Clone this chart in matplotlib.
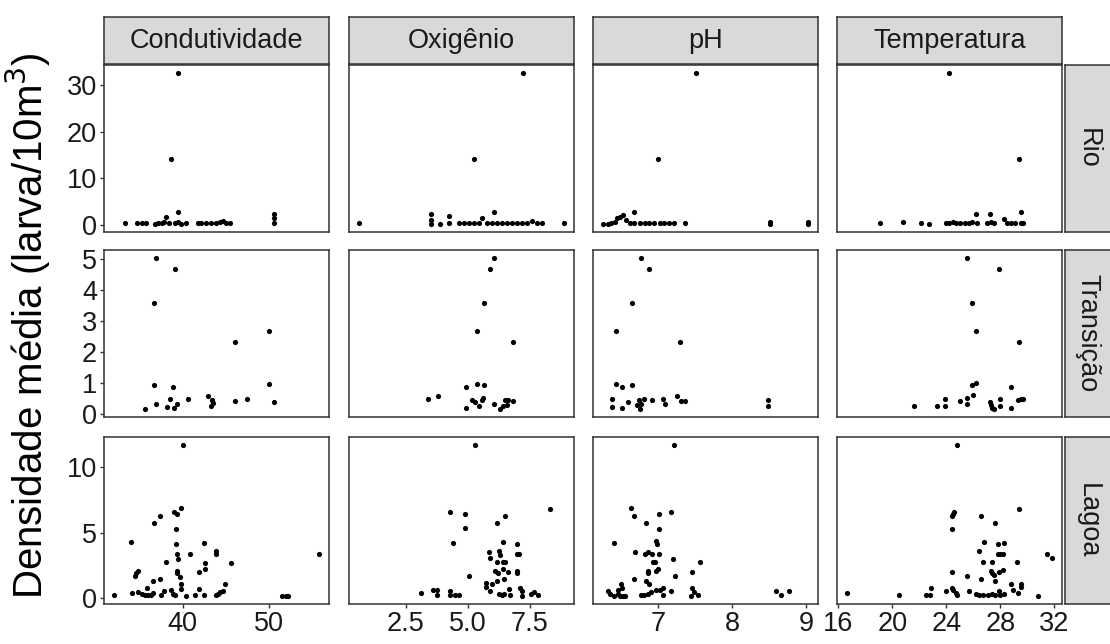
import matplotlib
matplotlib.use("Agg")
import matplotlib.pyplot as plt
import numpy as np

plt.rcParams["font.family"] = ["Liberation Sans", "DejaVu Sans"]

# facet labels
variables = ["Condutividade", "Oxigênio", "pH", "Temperatura"]
locais = ["Rio", "Transição", "Lagoa"]

# tick positions for each column / row
x_ticks = [[40, 50], [2.5, 5.0, 7.5], [7, 8, 9], [16, 20, 24, 28, 32]]
x_ticklabels = [["40", "50"], ["2.5", "5.0", "7.5"], ["7", "8", "9"],
                ["16", "20", "24", "28", "32"]]
y_ticks = [[0, 10, 20, 30], [0, 1, 2, 3, 4, 5], [0, 5, 10]]

# ---- Rio ----
rio_cond_x = [33.3, 34.7, 35.3, 35.8, 36.8, 37.2, 37.6, 37.9, 38.1, 38.4, 38.7, 39.1, 39.5, 39.5, 39.5,
              39.8, 40.4, 41.8, 42.1, 42.7, 43.3, 43.9, 44.3, 44.6, 45.0, 45.4, 50.5, 50.5, 50.5]
rio_cond_y = [0.4, 0.6, 0.5, 0.5, 0.3, 0.6, 0.5, 0.8, 1.7, 0.4, 14.1, 0.5, 32.6, 2.8, 0.7,
              0.3, 0.5, 0.4, 0.4, 0.6, 0.5, 0.4, 0.7, 0.9, 0.5, 0.6, 2.4, 1.5, 0.6]
rio_oxi_x = [0.63, 3.5, 3.5, 3.5, 3.9, 4.23, 4.23, 4.63, 4.83, 5.03, 5.23, 5.26, 5.43, 5.57, 5.77,
             5.97, 6.07, 6.17, 6.37, 6.57, 6.77, 6.97, 7.17, 7.21, 7.37, 7.57, 7.77, 8.0, 8.86]
rio_oxi_y = [0.57, 2.4, 1.1, 0.2, 0.3, 1.9, 0.4, 0.4, 0.4, 0.4, 0.4, 14.1, 0.4, 1.5, 0.6,
             0.4, 2.8, 0.4, 0.4, 0.4, 0.4, 0.6, 0.6, 32.6, 0.6, 0.9, 0.4, 0.4, 0.57]
rio_ph_x = [6.26, 6.33, 6.37, 6.42, 6.44, 6.48, 6.53, 6.57, 6.62, 6.68, 6.68, 6.75, 6.82, 6.88,
            6.95, 7.0, 7.02, 7.08, 7.15, 7.22, 7.36, 7.51, 8.51, 8.51, 9.02, 9.02]
rio_ph_y = [0.3, 0.3, 0.4, 0.8, 1.5, 1.8, 2.2, 1.1, 0.4, 0.4, 2.8, 0.4, 0.4, 0.6,
            0.4, 14.1, 0.4, 0.4, 0.4, 0.4, 0.4, 32.6, 0.8, 0.3, 0.8, 0.3]
rio_temp_x = [19.1, 20.8, 22.1, 22.75, 24.0, 24.2, 24.2, 24.5, 24.7, 25.0, 25.4, 25.7, 25.9, 26.2,
              26.3, 27.0, 27.2, 27.3, 27.5, 28.3, 28.5, 28.75, 29.1, 29.4, 29.5, 29.5, 29.7]
rio_temp_y = [0.4, 0.8, 0.6, 0.3, 0.4, 32.6, 0.6, 0.8, 0.4, 0.4, 0.4, 0.6, 0.8, 2.4,
              0.4, 0.4, 2.4, 0.8, 0.4, 1.3, 0.6, 0.4, 0.4, 14.1, 2.8, 0.4, 0.4]

# ---- Transicao ----
trans_cond_x = [36.9, 39.1, 36.7, 50.0, 46.0, 36.7, 38.9, 50.0, 36.9, 38.5, 39.3, 38.2, 39.0,
                40.6, 42.9, 43.4, 43.5, 43.3, 46.0, 47.4, 50.5, 35.6]
trans_cond_y = [5.06, 4.70, 3.58, 2.70, 2.35, 0.96, 0.87, 0.99, 0.32, 0.48, 0.34, 0.23, 0.21,
                0.49, 0.60, 0.46, 0.37, 0.26, 0.44, 0.50, 0.39, 0.17]
trans_oxi_x = [6.05, 5.9, 5.67, 5.37, 6.81, 4.93, 5.37, 5.67, 3.41, 3.79, 4.93, 5.17, 5.3, 5.43,
               5.57, 5.63, 6.07, 6.3, 6.43, 6.5, 6.63, 6.81, 6.57]
trans_oxi_y = [5.06, 4.70, 3.58, 2.70, 2.35, 0.87, 0.99, 0.96, 0.49, 0.59, 0.22, 0.47, 0.39, 0.27,
               0.45, 0.52, 0.33, 0.18, 0.27, 0.45, 0.45, 0.43, 0.29]
trans_ph_x = [6.77, 6.88, 6.65, 6.43, 7.3, 6.43, 6.51, 6.65, 6.38, 6.38, 6.51, 6.6, 6.71, 6.74,
              6.75, 6.77, 6.81, 6.92, 7.07, 7.09, 7.26, 7.31, 7.37, 8.49, 8.49]
trans_ph_y = [5.06, 4.70, 3.58, 2.70, 2.35, 0.99, 0.87, 0.96, 0.50, 0.23, 0.21, 0.39, 0.29, 0.45,
              0.18, 0.34, 0.49, 0.46, 0.50, 0.32, 0.59, 0.43, 0.42, 0.47, 0.26]
trans_temp_x = [25.5, 27.9, 25.9, 26.2, 29.4, 25.9, 26.2, 28.8, 21.6, 23.3, 23.9, 23.9, 25.0,
                25.5, 25.5, 26.0, 27.2, 27.3, 27.4, 27.5, 28.0, 28.0, 28.8, 29.3, 29.5, 29.7]
trans_temp_y = [5.06, 4.70, 3.58, 2.70, 2.35, 0.96, 1.0, 0.87, 0.28, 0.27, 0.48, 0.28, 0.42,
                0.52, 0.32, 0.61, 0.39, 0.31, 0.22, 0.16, 0.48, 0.26, 0.22, 0.46, 0.48, 0.50]

# ---- Lagoa ----
lagoa_cond_x = [40.0, 39.8, 39.0, 39.3, 37.4, 36.7, 39.2, 34.0, 39.2, 42.5, 43.9, 43.9, 40.9, 39.3,
                39.5, 38.1, 42.6, 45.6, 34.9, 34.6, 34.5, 39.3, 39.4, 41.9, 42.6, 39.7, 37.4, 36.6,
                44.9, 39.8, 39.8, 35.9, 41.9, 44.6, 44.3, 44.1, 43.8, 32.1, 34.1, 34.9, 35.3, 35.6,
                36.0, 36.4, 36.6, 37.5, 37.9, 38.7, 38.9, 39.1, 40.4, 41.4, 42.5, 51.5, 51.9, 52.2,
                55.7]
lagoa_cond_y = [11.7, 6.9, 6.6, 6.4, 6.3, 5.7, 5.3, 4.3, 4.1, 4.2, 3.6, 3.4, 3.4, 3.4,
                3.0, 2.75, 2.7, 2.7, 2.1, 1.9, 1.7, 2.1, 1.9, 2.0, 2.2, 1.6, 1.5, 1.3,
                1.1, 1.1, 0.7, 0.8, 0.7, 0.55, 0.5, 0.35, 0.23, 0.23, 0.43, 0.48, 0.35, 0.23,
                0.23, 0.23, 0.43, 0.23, 0.56, 0.6, 0.35, 0.23, 0.15, 0.23, 0.23, 0.2, 0.2, 0.2,
                3.4]
lagoa_oxi_x = [5.3, 8.3, 4.27, 4.9, 6.49, 6.19, 4.89, 4.41, 6.42, 6.97, 5.87, 6.25, 6.3, 5.9,
               6.97, 7.07, 6.17, 6.43, 6.51, 6.1, 6.2, 6.41, 6.63, 6.96, 6.99, 5.03, 6.46, 6.19,
               5.74, 5.74, 5.97, 5.9, 6.25, 6.39, 6.46, 6.65, 6.7, 7.1, 7.17, 7.17, 7.53, 7.67,
               7.83, 3.1, 3.6, 3.77, 3.77, 4.27, 4.3, 4.5, 4.63]
lagoa_oxi_y = [11.7, 6.8, 6.6, 6.4, 6.3, 5.7, 5.35, 4.2, 4.3, 4.1, 3.5, 3.6, 3.3, 3.05,
               3.4, 3.4, 2.75, 2.75, 2.8, 2.1, 1.9, 2.2, 2.0, 2.07, 1.9, 1.67, 1.5, 1.3,
               1.19, 0.86, 1.09, 0.53, 0.35, 0.23, 0.35, 0.73, 0.23, 0.78, 0.53, 0.18, 0.35, 0.48,
               0.23, 0.43, 0.6, 0.6, 0.23, 0.53, 0.23, 0.23, 0.23]
lagoa_ph_x = [7.21, 6.63, 6.68, 7.01, 7.18, 6.84, 7.01, 6.4, 6.97, 6.99, 6.69, 6.83, 6.87, 6.92,
              7.01, 7.2, 7.57, 6.93, 6.96, 6.87, 6.87, 6.97, 7.0, 7.46, 7.23, 6.68, 6.84, 6.88,
              6.5, 6.51, 6.46, 6.46, 6.48, 6.33, 6.35, 6.4, 6.53, 6.56, 6.77, 6.81, 6.87, 6.91,
              6.97, 7.02, 7.06, 7.06, 7.17, 7.46, 7.48, 7.44, 7.54, 8.59, 8.66, 8.77]
lagoa_ph_y = [11.7, 6.9, 6.3, 6.4, 6.6, 5.7, 5.3, 4.2, 4.4, 4.1, 3.5, 3.4, 3.5, 3.4,
              3.4, 3.0, 2.75, 2.75, 2.75, 2.07, 1.9, 2.07, 2.2, 2.0, 1.67, 1.5, 1.36, 1.1,
              1.1, 0.8, 0.6, 0.35, 0.18, 0.56, 0.35, 0.18, 0.18, 0.18, 0.23, 0.23, 0.35, 0.48,
              0.6, 0.6, 0.8, 0.23, 0.53, 0.8, 0.48, 0.18, 0.23, 0.55, 0.23, 0.55]
lagoa_temp_x = [24.76, 29.4, 24.5, 24.6, 24.4, 26.6, 27.6, 24.4, 26.8, 27.8, 28.3, 26.4, 27.8, 28.0,
                28.2, 31.45, 31.8, 26.7, 27.4, 29.2, 24.4, 27.3, 27.4, 27.5, 27.9, 28.2, 25.5, 26.6,
                27.6, 28.8, 28.9, 29.5, 29.5, 29.3, 22.9, 22.5, 22.8, 20.5, 16.67, 24.0, 24.4, 24.5,
                24.7, 24.8, 25.7, 26.2, 26.4, 26.7, 27.1, 27.4, 27.6, 27.9, 28.0, 28.3, 30.8]
lagoa_temp_y = [11.7, 6.8, 6.4, 6.6, 6.3, 6.3, 5.7, 5.3, 4.3, 4.1, 4.2, 3.6, 3.4, 3.4,
                3.4, 3.4, 3.05, 2.75, 2.75, 2.75, 2.0, 2.07, 1.94, 1.8, 2.0, 2.15, 1.67, 1.5,
                1.34, 1.1, 0.6, 1.1, 0.86, 0.4, 0.78, 0.23, 0.23, 0.23, 0.43, 0.56, 0.78, 0.6,
                0.43, 0.23, 0.56, 0.3, 0.23, 0.23, 0.23, 0.35, 0.27, 0.56, 0.23, 0.35, 0.15]

data_x = [[rio_cond_x, rio_oxi_x, rio_ph_x, rio_temp_x],
          [trans_cond_x, trans_oxi_x, trans_ph_x, trans_temp_x],
          [lagoa_cond_x, lagoa_oxi_x, lagoa_ph_x, lagoa_temp_x]]
data_y = [[rio_cond_y, rio_oxi_y, rio_ph_y, rio_temp_y],
          [trans_cond_y, trans_oxi_y, trans_ph_y, trans_temp_y],
          [lagoa_cond_y, lagoa_oxi_y, lagoa_ph_y, lagoa_temp_y]]


def expand(vals):
    lo, hi = min(vals), max(vals)
    pad = (hi - lo) * 0.05
    return lo - pad, hi + pad


# free scales: x per column, y per row (ggplot-like 5% expansion)
col_lims = [expand(sum([data_x[r][c] for r in range(3)], [])) for c in range(4)]
row_lims = [expand(sum([data_y[r][c] for c in range(4)], [])) for r in range(3)]

W, H = 1110, 644
fig = plt.figure(figsize=(W / 100, H / 100), dpi=100)


def px_axes(x0, y0, w, h):
    return fig.add_axes([x0 / W, 1 - (y0 + h) / H, w / W, h / H])


col_x0 = [104, 349, 593, 837]
col_w = 225
row_y0 = [65, 250, 437]
row_h = 167
border = "#333333"
strip_bg = "#D9D9D9"
fs = 19.5

for r in range(3):
    for c in range(4):
        ax = px_axes(col_x0[c], row_y0[r], col_w, row_h)
        ax.scatter(data_x[r][c], data_y[r][c], s=14, color="black", linewidths=0, zorder=3)
        ax.set_xlim(col_lims[c])
        ax.set_ylim(row_lims[r])
        for sp in ax.spines.values():
            sp.set_color(border)
            sp.set_linewidth(1.1)
        ax.set_xticks(x_ticks[c])
        ax.set_yticks(y_ticks[r])
        ax.tick_params(length=3, width=1, color=border, labelsize=fs, labelcolor="#1A1A1A", pad=2)
        if r == 2:
            ax.set_xticklabels(x_ticklabels[c])
        else:
            ax.tick_params(axis="x", length=0, labelbottom=False)
        if c != 0:
            ax.tick_params(axis="y", length=0, labelleft=False)

# top strips
for c in range(4):
    st = px_axes(col_x0[c], 17, col_w, 47)
    st.set_facecolor(strip_bg)
    st.set_xticks([])
    st.set_yticks([])
    for sp in st.spines.values():
        sp.set_color(border)
        sp.set_linewidth(1.1)
    st.text(0.5, 0.5, variables[c], ha="center", va="center", fontsize=fs,
            color="#1A1A1A", transform=st.transAxes)

# right strips
for r in range(3):
    st = px_axes(1065, row_y0[r], 50, row_h)
    st.set_facecolor(strip_bg)
    st.set_xticks([])
    st.set_yticks([])
    for sp in st.spines.values():
        sp.set_color(border)
        sp.set_linewidth(1.1)
    st.text(0.45, 0.5, locais[r], ha="center", va="center", fontsize=fs,
            color="#1A1A1A", rotation=-90, transform=st.transAxes)

fig.text(28 / W, 1 - 326 / H, "Densidade média (larva/10m$^3$)", rotation=90,
         ha="center", va="center", fontsize=29, color="black")

fig.savefig("out.png", dpi=100)
